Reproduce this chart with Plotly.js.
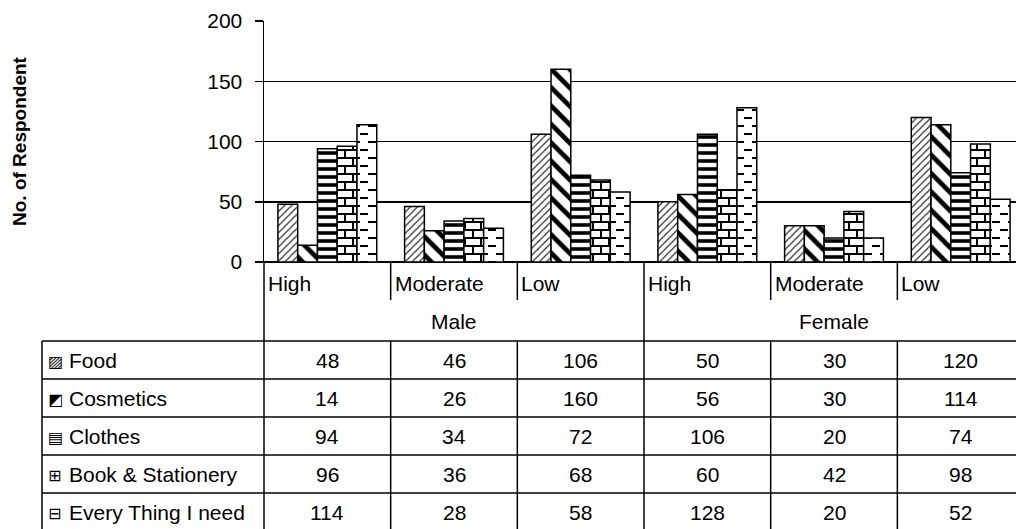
<!DOCTYPE html>
<html>
<head>
<meta charset="utf-8">
<script src="https://cdn.plot.ly/plotly-3.0.1.min.js"></script>
<style>
  html, body { margin: 0; padding: 0; background: #ffffff; }
  #chart { width: 1016px; height: 529px; }
</style>
</head>
<body>
<div id="chart"></div>
<script>
// Respondents by gender and purchase level, per product group
const genders = ["Male", "Female"];
const levels = ["High", "Moderate", "Low"];

const food       = [48, 46, 106, 50, 30, 120];
const cosmetics  = [14, 26, 160, 56, 30, 114];
const clothes    = [94, 34, 72, 106, 20, 74];
const bookStat   = [96, 36, 68, 60, 42, 98];
const everything = [114, 28, 58, 128, 20, 52];

const seriesNames = ["Food", "Cosmetics", "Clothes", "Book & Stationery", "Every Thing I need"];
const seriesValues = [food, cosmetics, clothes, bookStat, everything];
const seriesIds = ["food", "cosmetics", "clothes", "brick", "dash"];
const legendGlyphs = ["\u25A8", "\u25E9", "\u25A4", "\u229E", "\u229F"];

const yTicks = [0, 50, 100, 150, 200];

// category keys: one per gender/level pair
const categories = [];
genders.forEach(g => levels.forEach(l => categories.push(g + " " + l)));

// hatch styles per series (brick and dash tiles are redrawn after render)
const patterns = [
  { shape: "/",  size: 5,  solidity: 0.22, fgcolor: "#222" },
  { shape: "\\", size: 13, solidity: 0.36, fgcolor: "#000" },
  { shape: "-",  size: 8,  solidity: 0.45, fgcolor: "#000" },
  { shape: "+",  size: 8,  solidity: 0.2,  fgcolor: "#000" },
  { shape: "-",  size: 8,  solidity: 0.2,  fgcolor: "#000" }
];

const traces = seriesNames.map((name, i) => ({
  type: "bar",
  name: name,
  uid: seriesIds[i],
  x: categories,
  y: seriesValues[i],
  marker: {
    color: "#ffffff",
    line: { color: "#000000", width: 1.5 },
    pattern: Object.assign({ bgcolor: "#ffffff", fillmode: "replace" }, patterns[i])
  },
  hoverinfo: "x+y+name"
}));

// page geometry helpers (pixel -> paper)
const W = 1016, H = 529;
const px = v => v / W;
const py = v => 1 - v / H;

const plotLeft = 264, catW = 126.67;
const plotTop = 21, plotBottom = 262;
const colX = i => plotLeft + catW * i;          // left edge of column i
const colMid = i => plotLeft + catW * (i + 0.5);

const rowTop = 341, rowH = 38;
const font = "Liberation Sans, Arial, sans-serif";
const fs = 21;

const shapes = [];
const annotations = [];
const line = (x0, y0, x1, y1) => shapes.push({
  type: "line", xref: "paper", yref: "paper",
  x0: px(x0), y0: py(y0), x1: px(x1), y1: py(y1),
  line: { color: "#000", width: 1.5 }
});

// level-row separators
for (let i = 1; i < categories.length; i++) {
  if (i % levels.length === 0) continue;
  line(colX(i), plotBottom, colX(i), 300);
  line(colX(i), rowTop, colX(i), H);
}
// gender separators
for (let g = 0; g < genders.length; g++) {
  const x = colX(g * levels.length);
  line(x, plotBottom, x, H);
}
// table frame
line(42, rowTop, 42, H);
for (let r = 0; r < seriesNames.length; r++) {
  line(42, rowTop + r * rowH, W, rowTop + r * rowH);
}

// level labels
categories.forEach((c, i) => {
  annotations.push({
    xref: "paper", yref: "paper", x: px(colX(i) + 2), y: py(283),
    xanchor: "left", yanchor: "middle", showarrow: false,
    text: levels[i % levels.length], font: { family: font, size: fs, color: "#000" }
  });
});
// gender labels
genders.forEach((g, k) => {
  annotations.push({
    xref: "paper", yref: "paper",
    x: px(colX(k * levels.length) + catW * levels.length / 2), y: py(321),
    xanchor: "center", yanchor: "middle", showarrow: false,
    text: g, font: { family: font, size: fs, color: "#000" }
  });
});
// data table rows
seriesNames.forEach((name, r) => {
  const yc = rowTop + rowH * (r + 0.5);
  annotations.push({
    xref: "paper", yref: "paper", x: px(46), y: py(yc + 1),
    xanchor: "left", yanchor: "middle", showarrow: false,
    text: legendGlyphs[r], font: { family: "DejaVu Sans", size: 16, color: "#000" }
  });
  annotations.push({
    xref: "paper", yref: "paper", x: px(67), y: py(yc),
    xanchor: "left", yanchor: "middle", showarrow: false,
    text: name, font: { family: font, size: fs, color: "#000" }
  });
  seriesValues[r].forEach((v, i) => {
    annotations.push({
      xref: "paper", yref: "paper", x: px(colMid(i)), y: py(yc),
      xanchor: "center", yanchor: "middle", showarrow: false,
      text: String(v), font: { family: font, size: fs, color: "#000" }
    });
  });
});
// value axis title
annotations.push({
  xref: "paper", yref: "paper", x: px(19), y: py(141),
  xanchor: "center", yanchor: "middle", showarrow: false, textangle: -90,
  text: "<b>No. of Respondent</b>", font: { family: font, size: 19, color: "#000" }
});

const layout = {
  width: W, height: H,
  margin: { l: 0, r: 0, t: 0, b: 0 },
  paper_bgcolor: "#ffffff", plot_bgcolor: "#ffffff",
  showlegend: false,
  barmode: "group", bargap: 0.22, bargroupgap: 0,
  xaxis: {
    domain: [px(plotLeft), 1],
    range: [-0.5, -0.5 + (W - plotLeft) / catW],
    type: "category",
    showticklabels: false, ticks: "",
    showgrid: false, zeroline: false,
    showline: false, fixedrange: true
  },
  yaxis: {
    domain: [py(plotBottom), py(plotTop)],
    range: [0, 200],
    tickvals: yTicks,
    ticks: "outside", ticklen: 8, tickwidth: 1.5, tickcolor: "#000",
    ticklabelstandoff: 8,
    tickfont: { family: font, size: fs, color: "#000" },
    showgrid: true, gridcolor: "#000", gridwidth: 1.5,
    zeroline: true, zerolinecolor: "#000", zerolinewidth: 1.5,
    showline: true, linecolor: "#000", linewidth: 1.5,
    fixedrange: true
  },
  shapes: shapes,
  annotations: annotations
};

// brick and dashed-horizontal tiles, 16px square
const SVGNS = "http://www.w3.org/2000/svg";
const tiles = {
  brick: "M0 0H16V2H0Z M0 8H16V10H0Z M0 0H2V8H0Z M8 8H10V16H8Z",
  dash: "M0 0H8V2H0Z M8 8H16V10H8Z"
};

function retile(gd) {
  gd.querySelectorAll("pattern").forEach(p => {
    const id = p.getAttribute("id") || "";
    const key = Object.keys(tiles).find(k => id.endsWith("-" + k));
    if (!key) return;
    while (p.firstChild) p.removeChild(p.firstChild);
    p.setAttribute("width", "16");
    p.setAttribute("height", "16");
    const bg = document.createElementNS(SVGNS, "rect");
    bg.setAttribute("width", "16");
    bg.setAttribute("height", "16");
    bg.setAttribute("fill", "#ffffff");
    p.appendChild(bg);
    const fg = document.createElementNS(SVGNS, "path");
    fg.setAttribute("d", tiles[key]);
    fg.setAttribute("fill", "#000000");
    p.appendChild(fg);
  });
}

Plotly.newPlot("chart", traces, layout, { displayModeBar: false, staticPlot: true })
  .then(gd => retile(gd));
</script>
</body>
</html>
